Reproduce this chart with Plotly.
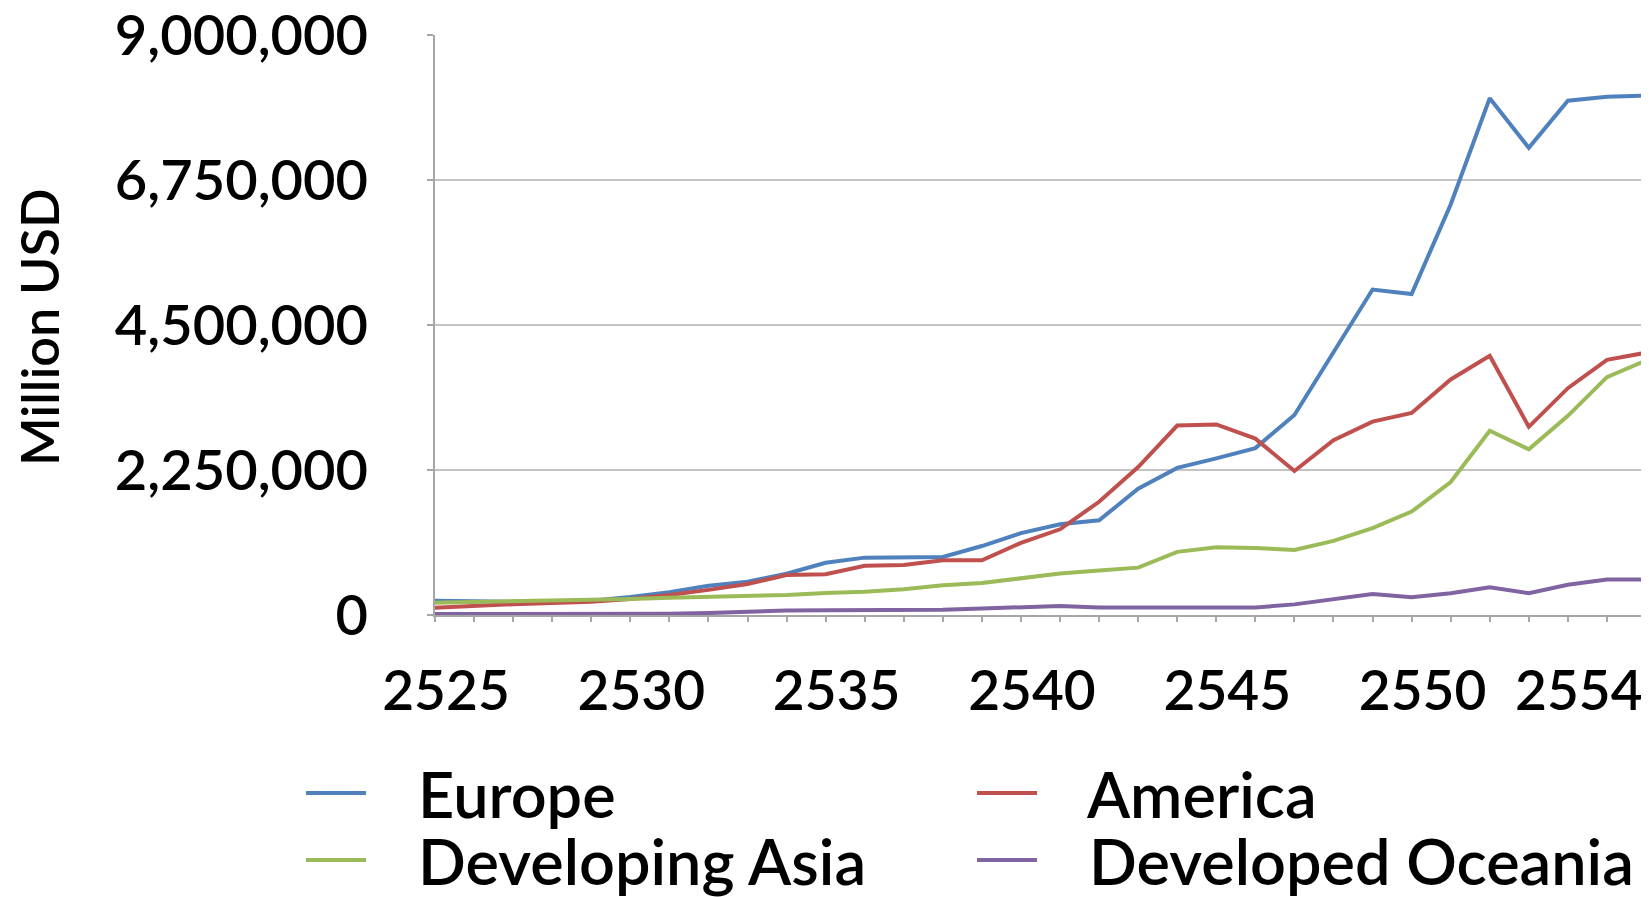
import plotly.graph_objects as go

years = [2525, 2526, 2527, 2528, 2529, 2530, 2531, 2532, 2533, 2534,
         2535, 2536, 2537, 2538, 2539, 2540, 2541, 2542, 2543, 2544,
         2545, 2546, 2547, 2548, 2549, 2550, 2551, 2552, 2553, 2554,
         2555, 2556]

labeled_years = [2525, 2530, 2535, 2540, 2545, 2550, 2554]

europe = [220000, 210000, 205000, 215000, 220000, 280000, 355000, 455000,
          515000, 640000, 810000, 890000, 890000, 900000, 1070000, 1270000,
          1408000, 1469000, 1959000, 2283000, 2430000, 2590000, 3104000, 4070000,
          5050000, 4980000, 6370000, 8020000, 7250000, 7980000, 8040000, 8060000]

america = [112000, 143000, 168000, 186000, 205000, 249000, 310000, 390000,
           480000, 620000, 634000, 764000, 777000, 850000, 850000, 1120000,
           1330000, 1757000, 2296000, 2940000, 2957000, 2737000, 2235000, 2712000,
           3000000, 3134000, 3655000, 4022000, 2920000, 3520000, 3960000, 4070000]

developing_asia = [190000, 200000, 210000, 220000, 230000, 249000, 267000, 280000,
                   292000, 311000, 340000, 360000, 400000, 460000, 497000, 575000,
                   643000, 690000, 735000, 980000, 1053000, 1040000, 1010000, 1150000,
                   1347000, 1604000, 2063000, 2859000, 2571000, 3090000, 3690000, 3950000]

developed_oceania = [15000, 14000, 14000, 15000, 15000, 16000, 20000, 30000,
                     55000, 70000, 72000, 75000, 75000, 80000, 100000, 120000,
                     140000, 116000, 116000, 128000, 116000, 116000, 165000, 245000,
                     324000, 275000, 337000, 430000, 337000, 470000, 550000, 550000]

y_ticks = [0, 2250000, 4500000, 6750000, 9000000]
y_title = "Million USD"

series = [
    ("Europe", europe, "#4F81BD", "legend"),
    ("America", america, "#C0504D", "legend2"),
    ("Developing Asia", developing_asia, "#9BBB59", "legend3"),
    ("Developed Oceania", developed_oceania, "#8064A2", "legend4"),
]

FONT = "Lato"
W, H = 1641, 889  # page adds an 8px body margin
ML, MR, MT, MB = 427, 3, 27, 282
PW, PH = W - ML - MR, H - MT - MB

fig = go.Figure()
for name, vals, color, lg in series:
    fig.add_trace(go.Scatter(x=years, y=vals, mode="lines",
                             name="\u00a0\u00a0\u00a0" + name,
                             legend=lg,
                             line=dict(color=color, width=4)))

ticktext = [str(y) if y in labeled_years else "" for y in years]

legend_font = dict(family=FONT, size=63, color="black", weight=600)


def legend_box(xpix, ypix):
    return dict(
        xref="container", yref="container",
        x=(xpix - 8) / W, y=1 - (ypix - 8) / H,
        xanchor="left", yanchor="middle",
        orientation="v", itemwidth=60,
        font=legend_font, bgcolor="rgba(0,0,0,0)",
    )


fig.update_layout(
    width=W, height=H,
    margin=dict(l=ML, r=MR, t=MT, b=MB, autoexpand=False),
    paper_bgcolor="white", plot_bgcolor="white",
    font=dict(family=FONT, color="black"),
    showlegend=True,
    legend=legend_box(301, 793),
    legend2=legend_box(972, 793),
    legend3=legend_box(301, 860),
    legend4=legend_box(972, 860),
)

fig.add_annotation(
    text=y_title, textangle=-90,
    xref="paper", yref="paper",
    x=(39 - 8 - ML) / PW, y=(MT + PH + 8 - 328) / PH,
    xanchor="center", yanchor="middle", showarrow=False,
    font=dict(family=FONT, size=52, color="black", weight=600),
)

fig.update_xaxes(
    range=[years[0], years[-1]],
    tickmode="array", tickvals=years, ticktext=ticktext,
    ticks="outside", ticklen=5, tickwidth=1.5, tickcolor="#A6A6A6",
    showline=True, linecolor="#A6A6A6", linewidth=1.5,
    showgrid=False, zeroline=False, automargin=False,
    tickfont=dict(family=FONT, size=55, color="black", weight=600),
    ticklabelstandoff=22, ticklabelshift=11,
    ticklabeloverflow="allow",
)

fig.update_yaxes(
    range=[0, 9000000],
    tickmode="array", tickvals=y_ticks,
    tickformat=",",
    ticks="outside", ticklen=6, tickwidth=1.5, tickcolor="#A6A6A6",
    showline=True, linecolor="#A6A6A6", linewidth=1.5,
    showgrid=True, gridcolor="#C4C4C4", gridwidth=1.5,
    zeroline=False, automargin=False,
    tickfont=dict(family=FONT, size=56, color="black", weight=600),
    ticklabelstandoff=48,
    ticklabeloverflow="allow",
)

fig.write_html("out.html")
